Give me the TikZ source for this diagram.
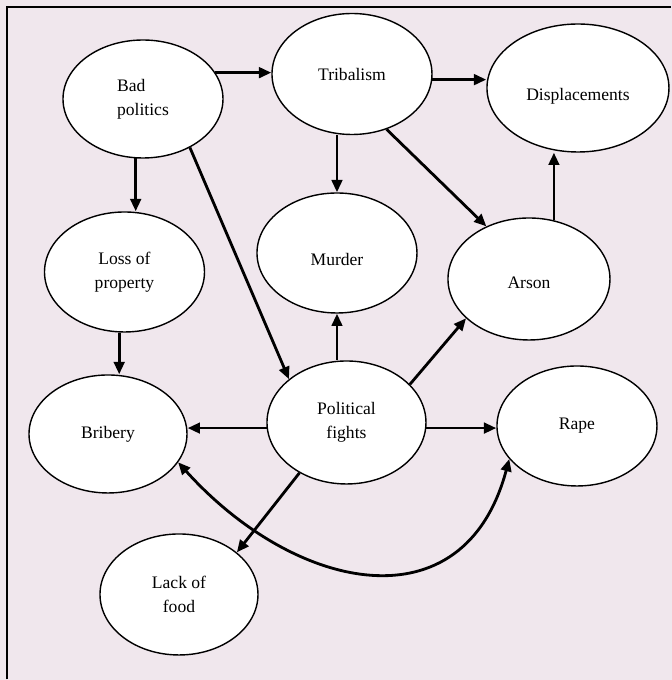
\documentclass[tikz,border=0pt]{standalone}
\usepackage{fontspec}
\setmainfont{Liberation Serif}
\usetikzlibrary{shapes.geometric,arrows.meta}
\definecolor{bg}{HTML}{F0E7ED}
\tikzset{
  frame/.style={draw=black, line width=0.6pt},
  ell/.style={ellipse, draw=black, fill=white, line width=0.8pt, inner sep=0pt,
    minimum width=3.2cm, minimum height=2.4cm,
    font=\fontsize{10}{13.6}\selectfont, align=center},
  arr/.style={draw=black, line width=1.6pt, -{Triangle[length=7pt,width=6pt]}},
  darr/.style={arr, {Triangle[length=7pt,width=6pt]}-{Triangle[length=7pt,width=6pt]}}
}
\newcommand{\dropby}[2]{\raisebox{-#1}[\height][\depth]{#2}}
\begin{document}
\begin{tikzpicture}
  \fill[bg] (0,0) rectangle (13.44,13.6);
  \draw[frame, line cap=butt] (0.14,0.01) -- (0.14,13.46) -- (13.43,13.46);

  % causes
  \node[ell, minimum height=2.36cm, align=left] (bad) at (2.86,11.62) {Bad\\politics};
  \node[ell, minimum height=2.42cm] (tri) at (7.04,12.12) {Tribalism};
  \node[ell, minimum width=3.64cm, minimum height=2.56cm] (disp) at (11.56,11.84) {\dropby{0.16cm}{Displacements}};

  \node[ell] (loss) at (2.49,8.16) {Loss of\\property};
  \node[ell] (mur) at (6.74,8.54) {\dropby{0.14cm}{Murder}};
  \node[ell, minimum width=3.24cm, minimum height=2.44cm] (ars) at (10.58,8.02) {\dropby{0.08cm}{Arson}};

  \node[ell, minimum width=3.16cm, minimum height=2.36cm] (bri) at (2.16,4.92) {Bribery};
  \node[ell, minimum width=3.18cm, minimum height=2.46cm] (pol) at (6.93,5.15) {Political\\fights};
  \node[ell] (rape) at (11.54,5.08) {Rape};
  \node[ell, minimum width=3.16cm, minimum height=2.42cm] (food) at (3.58,1.71) {Lack of\\food};

  % links
  \draw[arr] (bad.20) -- (bad.20 -| tri.west);
  \draw[arr] (tri.356) -- (tri.356 -| disp.west);
  \draw[arr] (bad.263) -- (bad.263 |- loss.north);
  \draw[arr] (bad.314) -- (pol.143);
  \draw[arr] (tri.south -| mur.north) -- (mur.north);
  \draw[arr] (tri.302) -- (ars.129);
  \draw[arr] (ars.67) -- (ars.67 |- disp.south);
  \draw[arr] (loss.265) -- (loss.265 |- bri.north);
  \draw[arr] (pol.north -| mur.south) -- (mur.south);
  \draw[arr] (pol.31) -- (ars.212);
  \draw[arr] (pol.184) -- (pol.184 -| bri.east);
  \draw[arr] (pol.356) -- (pol.356 -| rape.west);
  \draw[arr] (pol.227) -- (food.36);
  \draw[darr] (bri.338) to[out=-48, in=-105, looseness=1.35] (rape.206);
\end{tikzpicture}
\end{document}
